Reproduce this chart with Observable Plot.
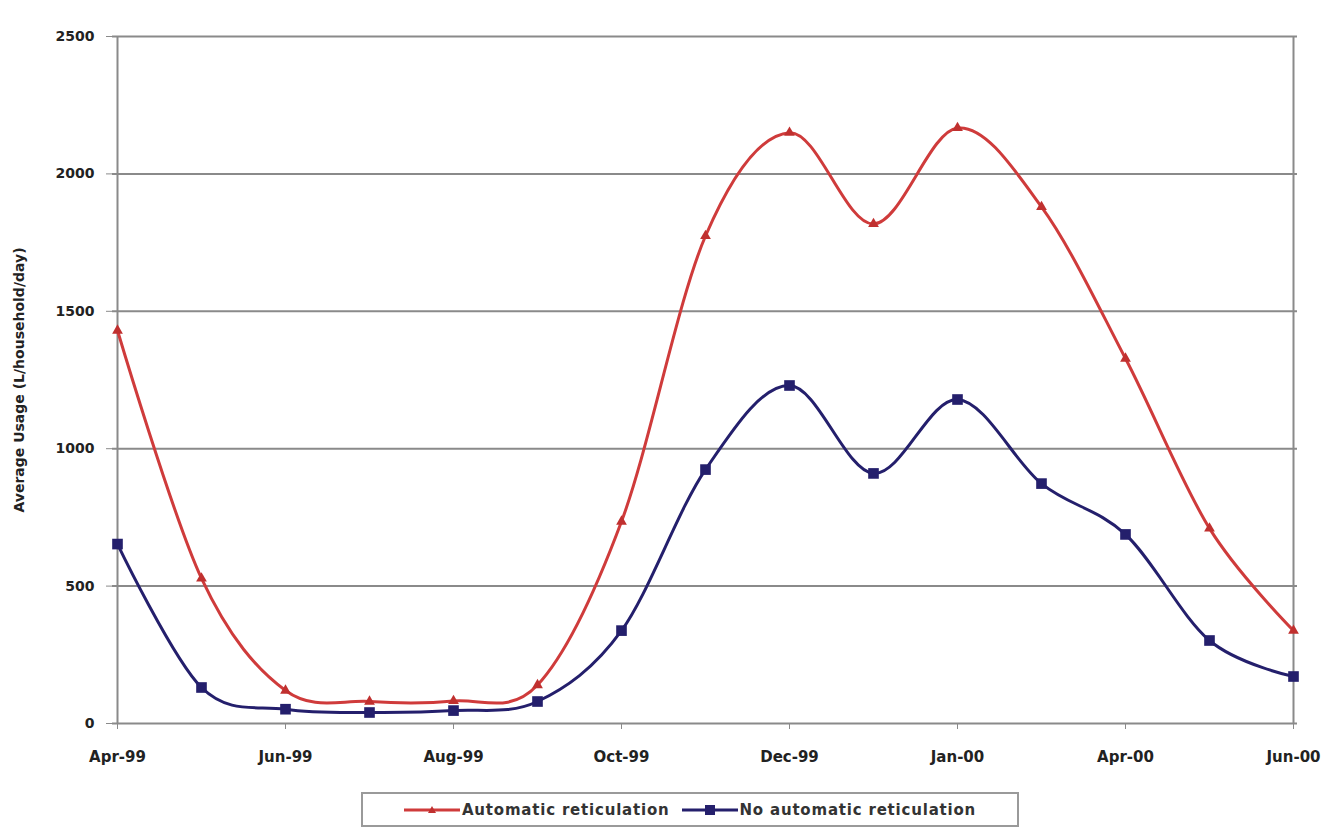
<!DOCTYPE html>
<html>
<head>
<meta charset="utf-8">
<script src="https://cdn.jsdelivr.net/npm/d3@7"></script>
<script src="https://cdn.jsdelivr.net/npm/@observablehq/plot@0.6"></script>
<style>
  html, body { margin: 0; padding: 0; background: #fff; }
  body { width: 1336px; height: 829px; position: relative; font-family: "DejaVu Sans", sans-serif; }
  #legend {
    position: absolute; left: 361px; top: 792px; width: 654px; height: 31px;
    border: 2px solid #9a9a9a; display: flex; align-items: center; justify-content: center;
    font-weight: bold; font-size: 15px; letter-spacing: 0.8px; color: #333; box-sizing: content-box;
  }
  #legend .item { display: flex; align-items: center; margin: 0 6px; }
  #legend svg { margin-right: 2px; }
</style>
</head>
<body>
<div id="chart"></div>
<div id="legend"></div>
<script>
// ---- data ----
const months = ["Apr-99","May-99","Jun-99","Jul-99","Aug-99","Sep-99","Oct-99","Nov-99","Dec-99","Jan-00a","Feb-00","Mar-00","Apr-00","May-00","Jun-00"];
const tickMonths = ["Apr-99","Jun-99","Aug-99","Oct-99","Dec-99","Feb-00","Apr-00","Jun-00"];
const tickLabels = ["Apr-99","Jun-99","Aug-99","Oct-99","Dec-99","Jan-00","Apr-00","Jun-00"];
const automatic = [1430, 528, 120, 80, 82, 140, 735, 1774, 2150, 1818, 2167, 1880, 1328, 710, 338];
const noAutomatic = [653, 131, 52, 40, 47, 80, 338, 924, 1230, 910, 1179, 873, 688, 302, 171];
const seriesNames = ["Automatic reticulation", "No automatic reticulation"];
const yTicks = [0, 500, 1000, 1500, 2000, 2500];
const yTitle = "Average Usage (L/household/day)";

const colors = {red: "#cf3b3b", blue: "#241f6c"};
const rows = [];
months.forEach((m, i) => {
  rows.push({month: m, value: automatic[i], series: seriesNames[0]});
  rows.push({month: m, value: noAutomatic[i], series: seriesNames[1]});
});
const red = rows.filter(d => d.series === seriesNames[0]);
const blue = rows.filter(d => d.series === seriesNames[1]);
const labelOf = new Map(tickMonths.map((m, i) => [m, tickLabels[i]]));

const chart = Plot.plot({
  width: 1336,
  height: 790,
  marginLeft: 112,
  marginRight: 39,
  marginTop: 36,
  marginBottom: 67,
  style: {fontFamily: "'DejaVu Sans', sans-serif", fontSize: "15px", fontWeight: "bold", color: "#222", background: "#fff"},
  x: {type: "point", domain: months, padding: 0},
  y: {domain: [0, 2500]},
  marks: [
    Plot.ruleY(yTicks.slice(1), {stroke: "#8a8a8a", strokeWidth: 2}),
    Plot.ruleY([0], {stroke: "#8a8a8a", strokeWidth: 2}),
    Plot.ruleX([months[0], months[months.length - 1]], {stroke: "#8a8a8a", strokeWidth: 2}),
    Plot.axisY({ticks: yTicks, tickFormat: d3.format("d"), tickSize: 6, tickPadding: 12, stroke: "#8a8a8a",
      label: yTitle, labelAnchor: "center", labelArrow: "none", labelOffset: 98,
      fontSize: 14, fill: "#222"}),
    Plot.axisX({ticks: tickMonths, tickFormat: m => labelOf.get(m), tickSize: 6, tickPadding: 22,
      stroke: "#8a8a8a", label: null, fill: "#222"}),
    Plot.line(red, {x: "month", y: "value", stroke: colors.red, strokeWidth: 3, curve: "cardinal", tension: 0}),
    Plot.line(blue, {x: "month", y: "value", stroke: colors.blue, strokeWidth: 3, curve: "cardinal", tension: 0}),
    Plot.dot(red, {x: "month", y: "value", symbol: "triangle", r: 4, fill: "#c0302f", stroke: "none"}),
    Plot.dot(blue, {x: "month", y: "value", symbol: "square", r: 6, fill: colors.blue, stroke: "none"})
  ]
});
document.getElementById("chart").appendChild(chart);

// legend
const legend = document.getElementById("legend");
const sym = {
  [seriesNames[0]]: `<svg width="56" height="14"><line x1="0" y1="7" x2="56" y2="7" stroke="${colors.red}" stroke-width="3"/><path d="M28,3 L32,10 L24,10 Z" fill="#c0302f"/></svg>`,
  [seriesNames[1]]: `<svg width="56" height="14"><line x1="0" y1="7" x2="56" y2="7" stroke="${colors.blue}" stroke-width="3"/><rect x="23" y="2" width="10" height="10" fill="${colors.blue}"/></svg>`
};
seriesNames.forEach(name => {
  const it = document.createElement("div");
  it.className = "item";
  it.innerHTML = sym[name] + `<span>${name}</span>`;
  legend.appendChild(it);
});
</script>
</body>
</html>
